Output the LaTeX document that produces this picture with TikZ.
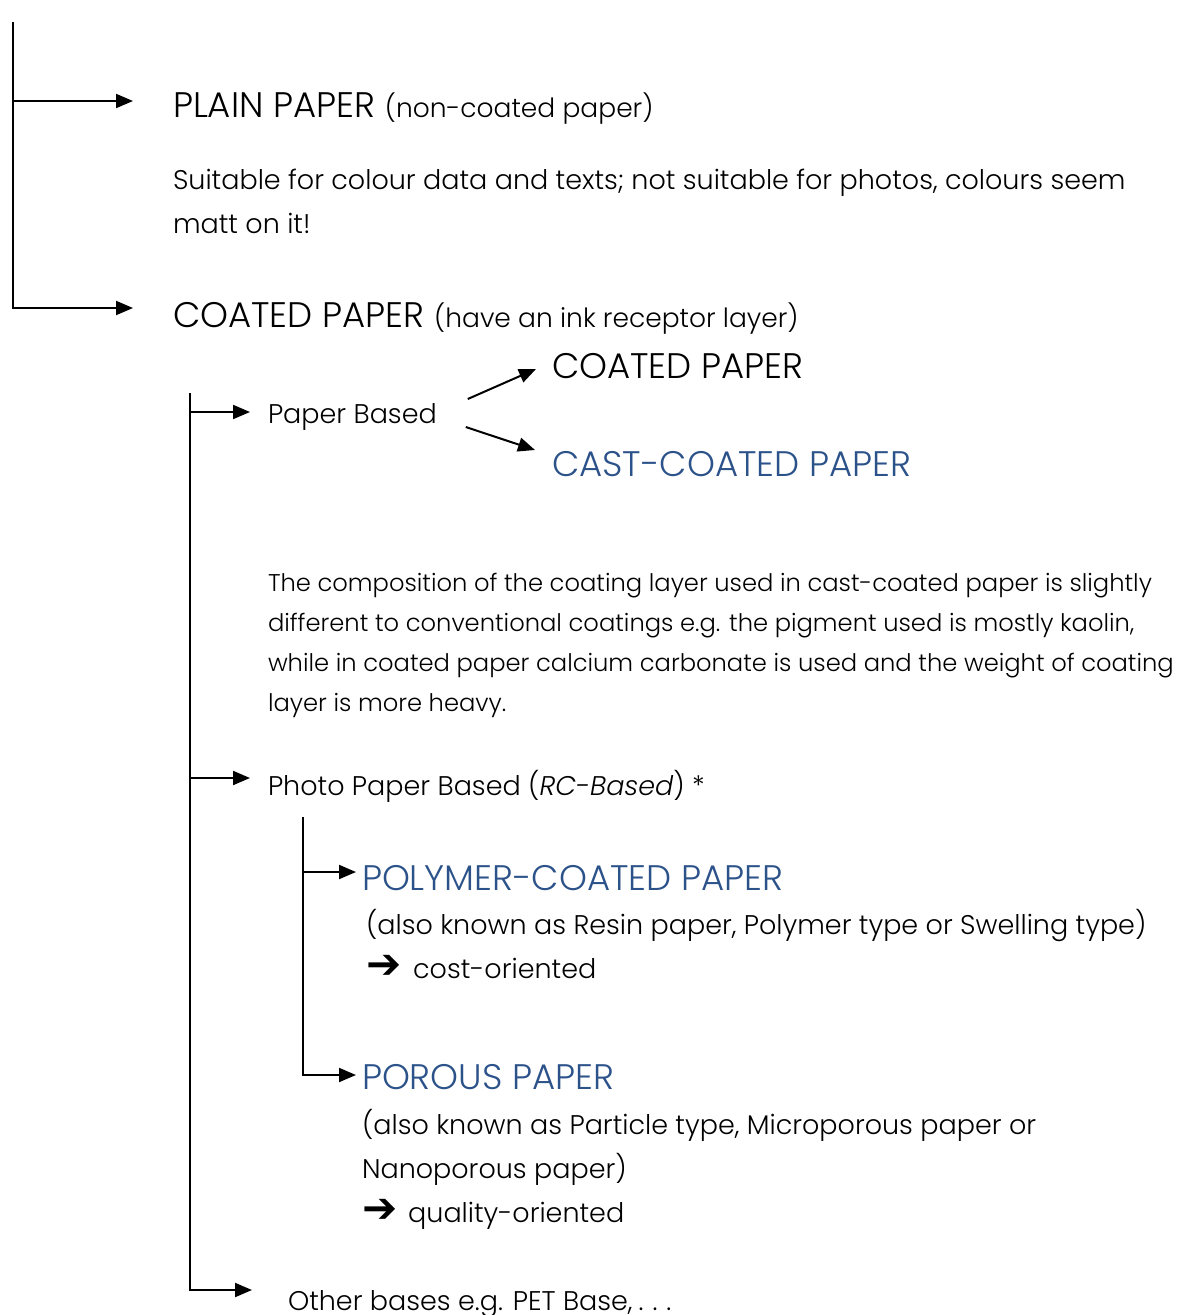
\documentclass[tikz,border=0pt]{standalone}
\usepackage{fontspec}
\setmainfont{Poppins}[UprightFont=* Light, ItalicFont=* Light Italic]
\newfontfamily\symfont{DejaVu Sans}
\usetikzlibrary{arrows.meta, positioning}

\definecolor{paperblue}{RGB}{44,82,138}
\newcommand{\bigarrow}{{\symfont\fontsize{42}{30}\selectfont ➔}}

\begin{document}
\begin{tikzpicture}[
        x=1pt, y=-1pt,
        every node/.style={inner sep=0pt, outer sep=0pt, anchor=base west, align=left},
        branch/.style={-{Triangle[length=17pt, width=14pt]}, line width=2pt},
        big/.style={font=\fontsize{35.5}{40}\selectfont},
        body/.style={font=\fontsize{27}{44}\selectfont},
        small/.style={font=\fontsize{24.2}{40}\selectfont},
        blue/.style={big, text=paperblue}
    ]
    \useasboundingbox (0,0) rectangle (1189,1315);

    % first level
    \coordinate (t1) at (13,22);
    \node (plain) at (173,117) [big] {PLAIN PAPER {\fontsize{26.5}{30}\selectfont(non-coated paper)}};
    \node (plaintxt) at (173,233) [body] {Suitable for colour data and texts; not suitable for photos, colours seem\\matt on it!};
    \node (coated) at (173,327) [big] {COATED PAPER {\fontsize{26.5}{30}\selectfont(have an ink receptor layer)}};

    \draw[branch, shorten >=40pt] (t1) |- ([yshift=16pt]plain.base west);
    \draw[branch, shorten >=40pt] (t1) |- ([yshift=19pt]coated.base west);

    % second level
    \coordinate (t2) at (190,393);
    \node (paperbased) at (268,423) [body] {Paper Based};
    \node (coated2) at (552,378) [big] {COATED PAPER};
    \node (cast) at (552,476) [blue] {CAST-COATED PAPER};
    \node (casttxt) at (268,711) [small] {The composition of the coating layer used in cast-coated paper is slightly\\different to conventional coatings e.g. the pigment used is mostly kaolin,\\while in coated paper calcium carbonate is used and the weight of coating\\layer is more heavy.};
    \node (photo) at (268,795) [body] {Photo Paper Based (\textit{RC-Based}) *};
    \node (other) at (288,1310) [body] {Other bases e.g. PET Base,\hspace{6pt}.\hspace{9pt}.\hspace{9pt}.};

    \draw[branch, shorten >=18pt] (t2) |- ([yshift=11pt]paperbased.base west);
    \draw[branch, shorten >=18pt] (t2) |- ([yshift=17pt]photo.base west);
    \draw[branch, shorten >=36pt] (t2) |- ([yshift=20pt]other.base west);
    \draw[branch] ([xshift=31pt, yshift=24pt]paperbased.base east) -- ([xshift=-16pt, yshift=9pt]coated2.base west);
    \draw[branch] ([xshift=29pt, yshift=-4pt]paperbased.base east) -- ([xshift=-17pt, yshift=26pt]cast.base west);

    % third level
    \coordinate (t3) at (303,817);
    \node (polymer) at (362,890) [blue] {POLYMER-COATED PAPER};
    \node (polytxt) at (366,978) [body] {(also known as Resin paper, Polymer type or Swelling type)\\\bigarrow\hspace{12pt}cost-oriented};
    \node (porous) at (362,1089) [blue] {POROUS PAPER};
    \node (portxt) at (362,1222) [body] {(also known as Particle type, Microporous paper or\\Nanoporous paper)\\\bigarrow\hspace{11pt}quality-oriented};

    \draw[branch, shorten >=6pt] (t3) |- ([yshift=18pt]polymer.base west);
    \draw[branch, shorten >=6pt] (t3) |- ([yshift=14pt]porous.base west);
\end{tikzpicture}
\end{document}
